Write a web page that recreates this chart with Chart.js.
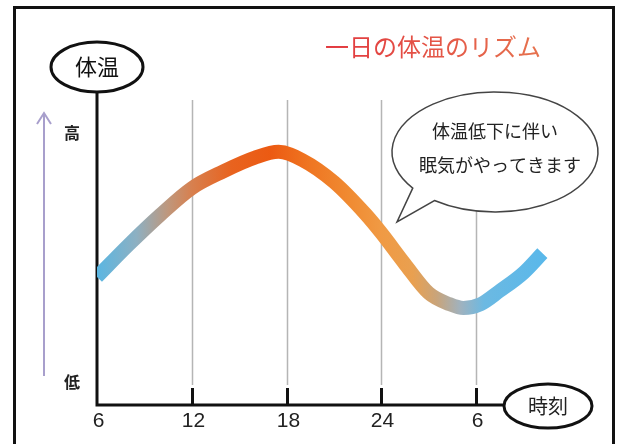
<!DOCTYPE html>
<html>
<head>
<meta charset="utf-8">
<script src="https://cdn.jsdelivr.net/npm/chart.js@4/dist/chart.umd.min.js"></script>
<style>
html,body{margin:0;padding:0;background:#fff;}
#wrap{width:622px;height:444px;}
</style>
</head>
<body>
<div id="wrap"><canvas id="c" width="622" height="444"></canvas></div>
<script>
// ---- data ----
const hours = [6, 8, 10, 12, 14, 16, 17.5, 19, 21, 23, 24, 25.5, 27, 28.3, 29.2, 30.3, 31.5, 33, 34.2];
const temps = [42, 52.5, 62.3, 71.1, 76.6, 81.1, 83, 80.3, 73.1, 62.6, 56.4, 46.2, 36.7, 33.1, 31.8, 33.1, 37.4, 43.3, 49.8];
const tickValues = [6, 12, 18, 24, 30];
const tickLabels = ['6', '12', '18', '24', '6'];
const titleText = '一日の体温のリズム';
const yAxisTitle = '体温';
const xAxisTitle = '時刻';
const yHigh = '高';
const yLow = '低';
const bubbleLines = ['体温低下に伴い', '眠気がやってきます'];
const gradStops = [
  [6, '#5ab6e2'], [8.5, '#8db0c2'], [10.5, '#bf977c'], [12, '#d7804f'],
  [14.5, '#e8631f'], [17, '#ec5a12'], [19.5, '#ef7622'], [22, '#f08b32'],
  [24, '#f09a44'], [26, '#e9a050'], [27.5, '#c9a47a'], [29, '#a0b2be'],
  [30.5, '#6cb9e2'], [34.2, '#5ab8ea']
];

const JP = '"Noto Sans CJK JP", "Noto Sans", sans-serif';

function curveGradient(context) {
  const chart = context.chart;
  const area = chart.chartArea;
  if (!area) return '#5ab6e2';
  const xs = chart.scales.x;
  const x0 = xs.getPixelForValue(gradStops[0][0]);
  const x1 = xs.getPixelForValue(gradStops[gradStops.length - 1][0]);
  const g = chart.ctx.createLinearGradient(x0, 0, x1, 0);
  const span = gradStops[gradStops.length - 1][0] - gradStops[0][0];
  gradStops.forEach(([h, c]) => g.addColorStop((h - gradStops[0][0]) / span, c));
  return g;
}

const decor = {
  id: 'decor',
  beforeDatasetsDraw(chart) {
    const ctx = chart.ctx;
    const xs = chart.scales.x;
    const area = chart.chartArea;
    ctx.save();
    // outer frame
    ctx.strokeStyle = '#111';
    ctx.lineWidth = 3;
    ctx.strokeRect(14.5, 7.5, 599, 460);

    // title
    ctx.font = '24px ' + JP;
    ctx.textAlign = 'center';
    ctx.textBaseline = 'middle';
    const tg = ctx.createLinearGradient(325, 0, 540, 0);
    tg.addColorStop(0, '#e2383f');
    tg.addColorStop(1, '#e6724e');
    ctx.fillStyle = tg;
    ctx.fillText(titleText, 433, 47);

    // gridlines & tick marks & tick labels
    tickValues.forEach((v, i) => {
      const x = Math.round(xs.getPixelForValue(v)) + 0.5;
      if (i > 0) {
        ctx.strokeStyle = '#b5b5b5';
        ctx.lineWidth = 1.5;
        ctx.beginPath(); ctx.moveTo(x, 100); ctx.lineTo(x, 385); ctx.stroke();
        ctx.strokeStyle = '#111';
        ctx.lineWidth = 3;
        ctx.beginPath(); ctx.moveTo(x, 388); ctx.lineTo(x, area.bottom); ctx.stroke();
      }
      ctx.fillStyle = '#222';
      ctx.font = '21px "Liberation Sans Narrow", "Liberation Sans", sans-serif';
      ctx.textAlign = 'center';
      ctx.textBaseline = 'middle';
      ctx.fillText(tickLabels[i], x + 1, area.bottom + 16);
    });

    // axes
    ctx.strokeStyle = '#111';
    ctx.lineWidth = 3;
    ctx.beginPath();
    ctx.moveTo(area.left, 92);
    ctx.lineTo(area.left, area.bottom);
    ctx.lineTo(505, area.bottom);
    ctx.stroke();

    // y axis title ellipse
    ctx.beginPath();
    ctx.ellipse(97, 67, 46, 25, 0, 0, Math.PI * 2);
    ctx.fillStyle = '#fff'; ctx.fill();
    ctx.lineWidth = 3; ctx.stroke();
    ctx.fillStyle = '#111';
    ctx.font = '22px ' + JP;
    ctx.fillText(yAxisTitle, 97, 67);

    // x axis title ellipse
    ctx.beginPath();
    ctx.ellipse(548, 406, 44, 22, 0, 0, Math.PI * 2);
    ctx.fillStyle = '#fff'; ctx.fill();
    ctx.lineWidth = 3; ctx.stroke();
    ctx.fillStyle = '#222';
    ctx.font = '20px ' + JP;
    ctx.fillText(xAxisTitle, 548, 406);

    // high / low
    ctx.font = 'bold 16px ' + JP;
    ctx.fillStyle = '#222';
    ctx.fillText(yHigh, 72, 133);
    ctx.fillText(yLow, 72, 382);

    // purple arrow
    ctx.strokeStyle = '#a89fcc';
    ctx.lineWidth = 2;
    ctx.beginPath(); ctx.moveTo(44, 115); ctx.lineTo(44, 376); ctx.stroke();
    ctx.beginPath(); ctx.moveTo(37, 124); ctx.lineTo(44, 113); ctx.lineTo(51, 124); ctx.stroke();
    ctx.restore();
  },
  afterDatasetsDraw(chart) {
    const ctx = chart.ctx;
    ctx.save();
    const cx = 495, cy = 152, rx = 103, ry = 60;
    const t1 = 143 * Math.PI / 180, t2 = 126 * Math.PI / 180;
    const tip = [397, 222];
    ctx.beginPath();
    ctx.ellipse(cx, cy, rx, ry, 0, t1, t2 + Math.PI * 2, false);
    ctx.lineTo(tip[0], tip[1]);
    ctx.closePath();
    ctx.fillStyle = '#fff';
    ctx.fill();
    ctx.strokeStyle = '#444';
    ctx.lineWidth = 1.5;
    ctx.stroke();
    ctx.fillStyle = '#222';
    ctx.font = '18px ' + JP;
    ctx.textAlign = 'center';
    ctx.textBaseline = 'middle';
    ctx.fillText(bubbleLines[0], 495, 131);
    ctx.fillText(bubbleLines[1], 500, 165);
    ctx.restore();
  }
};

new Chart(document.getElementById('c'), {
  type: 'line',
  data: {
    datasets: [{
      data: hours.map((h, i) => ({ x: h, y: temps[i] })),
      borderColor: curveGradient,
      borderWidth: 14,
      borderCapStyle: 'butt',
      cubicInterpolationMode: 'monotone',
      pointRadius: 0,
      fill: false
    }]
  },
  options: {
    responsive: false,
    devicePixelRatio: 1,
    animation: false,
    events: [],
    layout: { padding: { left: 97, top: 100, right: 67, bottom: 39 } },
    plugins: { legend: { display: false }, tooltip: { enabled: false }, title: { display: false } },
    scales: {
      x: {
        type: 'linear',
        display: false,
        min: 6,
        max: 35
      },
      y: { display: false, min: 0, max: 100 }
    }
  },
  plugins: [decor]
});
</script>
</body>
</html>
